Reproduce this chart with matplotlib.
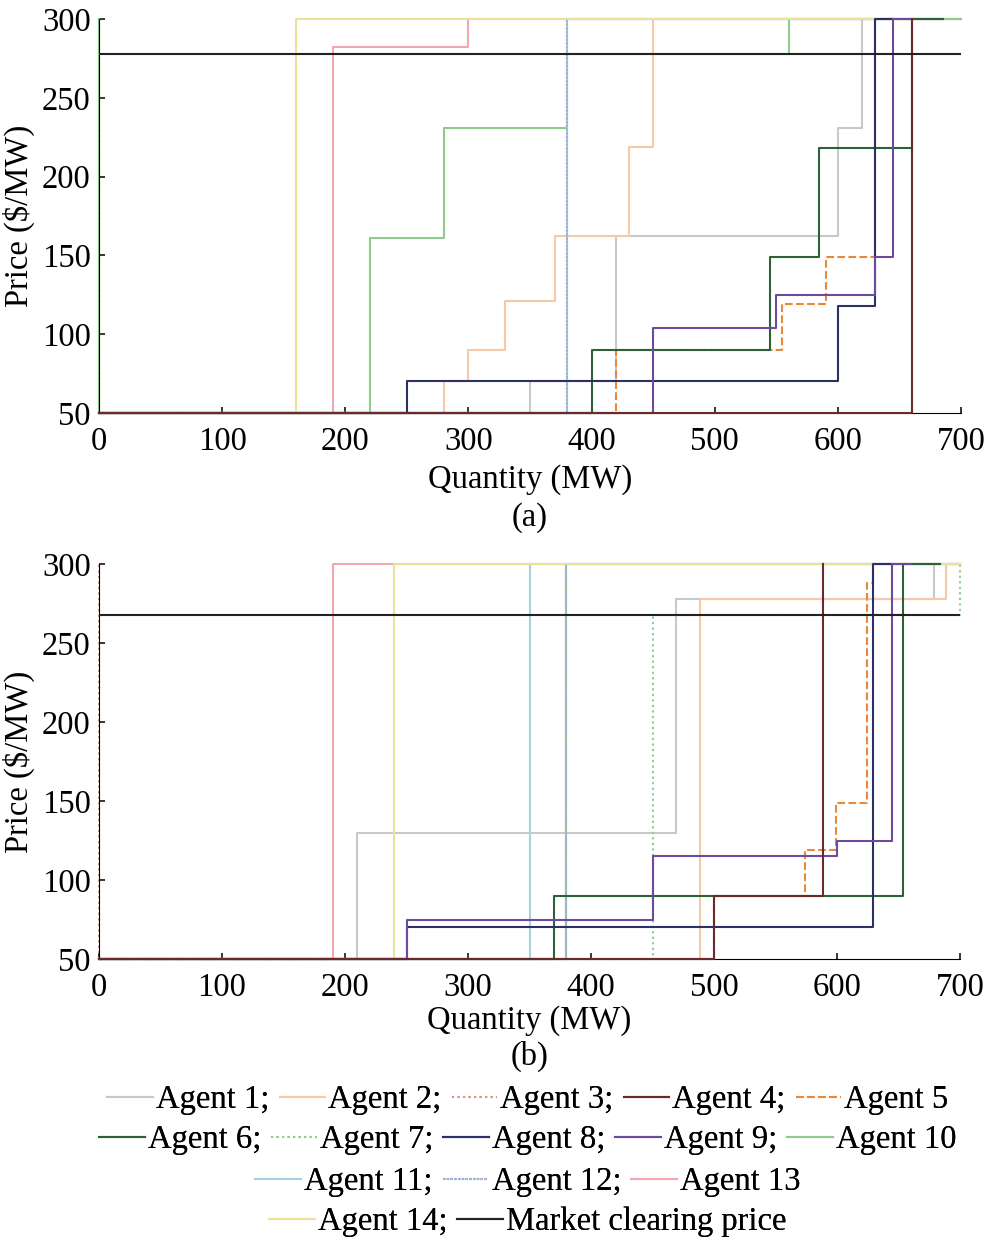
import matplotlib
matplotlib.use('Agg')
import matplotlib.pyplot as plt
from matplotlib.lines import Line2D

plt.rcParams['font.family'] = ['Liberation Serif', 'DejaVu Serif']

# ---- data: step curves (quantity breakpoints, price after each breakpoint)
labels = ['Agent %d' % i for i in range(1, 15)]
colors = ['#c9c9c9', '#f7c9a8', '#e3907e', '#6a2a2c', '#e8893a', '#2f6138', '#8ccb92',
          '#2c3065', '#6b4b9e', '#8ecb8c', '#a7d1e3', '#9bb1d6', '#f3a7b5', '#e9e29a']
styles = ['-', '-', ':', '-', '--', '-', ':', '-', '-', '-', '-', (0, (1.2, 0.6)), '-', '-']

# panel (a)
a_q1 = [0, 350, 420, 600, 620, 700];       a_p1 = [50, 70, 162, 231, 300, 300]
a_q2 = [0, 280, 300, 330, 370, 430, 450, 700]; a_p2 = [50, 70, 90, 121, 162, 219, 300, 300]
a_q3 = [0, 0];                             a_p3 = [50, 300]
a_q4 = [0, 660, 660];                      a_p4 = [50, 300, 300]
a_q5 = [0, 420, 555, 590, 630, 630];       a_p5 = [50, 90, 119, 149, 300, 300]
a_q6 = [0, 400, 545, 585, 660, 685];       a_p6 = [50, 90, 149, 218, 300, 300]
a_q7 = [0, 0];                             a_p7 = [50, 300]
a_q8 = [0, 250, 600, 630, 645];            a_p8 = [50, 70, 118, 300, 300]
a_q9 = [0, 450, 550, 630, 645, 660];       a_p9 = [50, 104, 125, 149, 300, 300]
a_q10 = [0, 220, 280, 380, 560, 700];      a_p10 = [50, 161, 231, 278, 300, 300]
a_q10_left = [0, 0];                       a_p10_left = [50, 300]
a_q11 = [0, 380, 685];                     a_p11 = [50, 300, 300]
a_q12 = [0, 380, 685];                     a_p12 = [50, 300, 300]
a_q13 = [0, 190, 300, 685];                a_p13 = [50, 282, 300, 300]
a_q14 = [0, 160, 685];                     a_p14 = [50, 300, 300]
a_mcp = 278

# panel (b)
b_q1 = [0, 210, 469, 679, 700];            b_p1 = [50, 130, 278, 300, 300]
b_q2 = [0, 489, 689, 700];                 b_p2 = [50, 278, 300, 300]
b_q3 = [0, 0];                             b_p3 = [50, 300]
b_q4 = [0, 500, 589, 589];                 b_p4 = [50, 90, 300, 300]
b_q5 = [0, 500, 574, 599, 624, 629];       b_p5 = [50, 90, 119, 149, 288, 300]
b_q6 = [0, 370, 654, 684];                 b_p6 = [50, 90, 300, 300]
b_q7 = [0, 450, 700, 700];                 b_p7 = [50, 268, 300, 300]
b_q8 = [0, 250, 629, 645];                 b_p8 = [50, 70, 300, 300]
b_q9 = [0, 250, 450, 600, 645, 660];       b_p9 = [50, 75, 115, 125, 300, 300]
b_q10 = [0, 380, 700];                     b_p10 = [50, 300, 300]
b_q11 = [0, 350, 700];                     b_p11 = [50, 300, 300]
b_q12 = [0, 380, 700];                     b_p12 = [50, 300, 300]
b_q13 = [0, 190, 700];                     b_p13 = [50, 300, 300]
b_q14 = [0, 240, 700];                     b_p14 = [50, 300, 300]
b_mcp = 268

panel_a = [(a_q1, a_p1), (a_q2, a_p2), (a_q3, a_p3), (a_q4, a_p4), (a_q5, a_p5), (a_q6, a_p6),
           (a_q7, a_p7), (a_q8, a_p8), (a_q9, a_p9), (a_q10, a_p10), (a_q11, a_p11),
           (a_q12, a_p12), (a_q13, a_p13), (a_q14, a_p14)]
panel_b = [(b_q1, b_p1), (b_q2, b_p2), (b_q3, b_p3), (b_q4, b_p4), (b_q5, b_p5), (b_q6, b_p6),
           (b_q7, b_p7), (b_q8, b_p8), (b_q9, b_p9), (b_q10, b_p10), (b_q11, b_p11),
           (b_q12, b_p12), (b_q13, b_p13), (b_q14, b_p14)]

# light curves sit below the dark ones, agent 4 on top along the floor
zorders = [2, 2, 2, 3.5, 3, 3, 2, 3, 3, 2.2, 2.3, 2.3, 2, 2.5]

FS = 23.5
fig = plt.figure(figsize=(9.86, 12.42), dpi=100)
ax_a = fig.add_axes([99/986, 1-413/1242, 862/986, 394/1242])
ax_b = fig.add_axes([99/986, 1-959/1242, 861/986, 395/1242])

def draw(ax, panel, mcp, xpad):
    for i, (q, p) in enumerate(panel):
        ax.step(q, p, where='post', color=colors[i], ls=styles[i], lw=1.5,
                zorder=zorders[i], clip_on=False)
    ax.axhline(mcp, color='#222222', lw=1.5, zorder=5)
    ax.set_xlim(0, 700)
    ax.set_ylim(50, 300)
    ax.set_xticks(range(0, 701, 100))
    ax.set_yticks(range(50, 301, 50))
    ax.spines['top'].set_visible(False)
    ax.spines['right'].set_visible(False)
    ax.tick_params(direction='in', length=4, width=1.1, labelsize=FS, pad=10)
    ax.tick_params(axis='y', pad=6)
    ax.set_xlabel('Quantity (MW)', fontsize=FS, labelpad=xpad)
    ax.set_ylabel(r'Price (\$/MW)', fontsize=FS, labelpad=5)

draw(ax_a, panel_a, a_mcp, 5)
ax_a.step(a_q10_left, a_p10_left, where='post', color=colors[9], lw=1.5, zorder=2.2, clip_on=False)
draw(ax_b, panel_b, b_mcp, 1.5)
fig.text(530/986, 1-518/1242, '(a)', ha='center', va='center', fontsize=FS)
fig.text(530/986, 1-1056/1242, '(b)', ha='center', va='center', fontsize=FS)

# legend laid out in four centred rows
handles = [Line2D([], [], color=colors[i], ls=styles[i], lw=1.5) for i in range(14)]
handles.append(Line2D([], [], color='#222222', lw=1.5))
names = [l + ';' for l in labels] + ['Market clearing price']
names[4] = 'Agent 5'
names[9] = 'Agent 10'
names[12] = 'Agent 13'
rows = [(range(0, 5), 1100), (range(5, 10), 1140), (range(10, 13), 1182), ([13, 14], 1222)]
for idx, ypx in rows:
    leg = fig.legend([handles[k] for k in idx], [names[k] for k in idx], ncol=len(idx),
                     loc='center', bbox_to_anchor=(528/986, 1-ypx/1242), frameon=False,
                     fontsize=FS, handlelength=1.4, handletextpad=0.1, columnspacing=0.3,
                     borderpad=0, borderaxespad=0)
    fig.add_artist(leg)

fig.savefig('out.png', dpi=100)
